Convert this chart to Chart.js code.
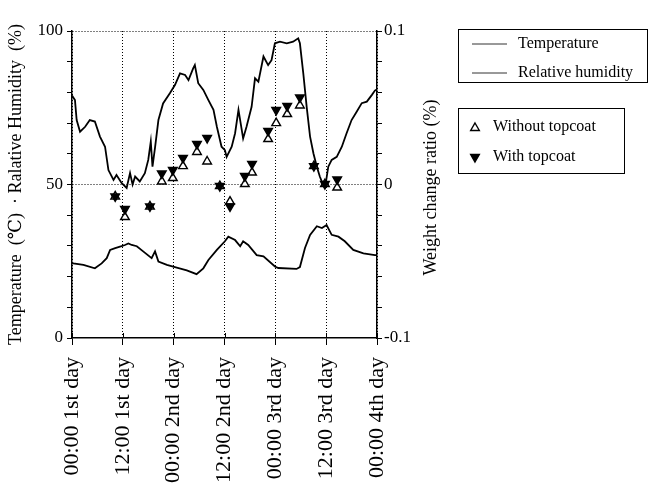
<!DOCTYPE html>
<html>
<head>
<meta charset="utf-8">
<title>Temperature, humidity and weight change</title>
<script src="https://cdn.jsdelivr.net/npm/chart.js@4/dist/chart.umd.min.js"></script>
<style>
  html, body { margin: 0; padding: 0; background: #fff; }
  #wrap { width: 651px; height: 486px; }
</style>
</head>
<body>
<div id="wrap"><canvas id="weather-chart" width="651" height="486"></canvas></div>
<script>
// time axis: hours from 00:00 of the 1st day, one tick every 12 h
const tickLabels = ['00:00 1st day', '12:00 1st day', '00:00 2nd day', '12:00 2nd day',
                    '00:00 3rd day', '12:00 3rd day', '00:00 4th day'];

// relative humidity (%)
const humidityHours = [0, 0.7, 1.1, 1.9, 3.1, 4.2, 5.4, 6.6, 7.8, 8.6, 9.8, 10.5, 11.7, 12.9, 13.7, 14.3,
  14.9, 16.0, 17.2, 18.0, 18.6, 19.0, 19.6, 20.4, 21.5, 23.1, 24.3, 25.5, 26.7, 27.5, 28.6, 29.0,
  29.8, 31.0, 32.2, 33.4, 34.2, 35.3, 36.1, 36.5, 37.7, 38.5, 39.3, 40.4, 41.2, 42.4, 43.2, 44.0,
  45.2, 46.3, 47.1, 47.9, 49.1, 50.7, 52.2, 53.4, 53.8, 54.6, 55.4, 56.2, 57.0, 57.8, 58.5, 59.3,
  59.8, 60.5, 61.3, 62.5, 63.7, 64.8, 66.0, 67.2, 68.4, 69.6, 70.8, 71.5, 72];
const humidityValues = [79, 77.5, 71, 67.2, 68.8, 71, 70.5, 65.6, 62.3, 54.7, 51.5, 53.1, 50.5, 48.9, 53.7, 50,
  52.6, 51, 53.7, 58, 64, 55.8, 62, 71, 76.4, 79.7, 82.4, 86.2, 85.7, 84, 87.8, 88.9,
  83, 80.8, 77.5, 74.3, 68.8, 62.3, 61.2, 59, 62.3, 66.7, 74.3, 65, 68.8, 75.3, 84.6, 83.5,
  91.7, 88.9, 90.5, 96, 96.5, 96, 96.5, 97.6, 96, 86.2, 75.3, 65.6, 60.1, 55.8, 52.6, 49.8,
  49.5, 55.8, 58, 59, 62.3, 66.6, 71, 73.7, 76.5, 77, 79.2, 80.6, 81];

// temperature (°C)
const tempHours = [0, 0.3, 2.7, 5.4, 7.0, 8.2, 9.0, 10.2, 11.7, 12.5, 13.3, 14.1, 15.3, 16.8, 18.8, 19.6,
  20.4, 22.4, 24.3, 27.1, 29.4, 31.0, 32.2, 34.2, 36.1, 36.9, 38.5, 39.7, 40.4, 41.6, 43.6, 45.2,
  47.9, 48.7, 53.0, 53.8, 55.0, 56.2, 57.8, 59.0, 60.1, 61.3, 62.9, 64.4, 66.4, 68.8, 71.5, 72];
const tempValues = [24.5, 24.3, 23.8, 22.7, 24.3, 26, 28.7, 29.3, 29.9, 30.3, 30.8, 30.3, 29.9, 28.2, 26, 28.2,
  24.9, 23.8, 23.1, 22, 20.8, 22.7, 25.4, 28.7, 31.5, 33, 31.9, 29.9, 31.5, 30.3, 27, 26.6,
  23.3, 22.8, 22.5, 23.1, 29.3, 33.6, 36.4, 35.8, 36.8, 33.6, 33, 31.5, 28.7, 27.6, 27, 27];

// weight change ratio (%) of the coated samples
const sampleHours = [10.2, 12.5, 18.4, 21.2, 23.8, 26.2, 29.5, 31.9, 34.9, 37.3,
  40.8, 42.5, 46.3, 48.2, 50.8, 53.8, 57.1, 59.7, 62.6];
const withoutTopcoat = [-0.0078, -0.0212, -0.0143, 0.002, 0.0042, 0.012, 0.0212, 0.015, -0.001, -0.0111,
  0.0003, 0.0078, 0.0296, 0.040, 0.0459, 0.0515, 0.012, 0.0003, -0.002];
const withTopcoat = [-0.0078, -0.016, -0.0143, 0.0072, 0.0094, 0.0173, 0.0264, 0.0303, -0.001, -0.0143,
  0.0055, 0.0134, 0.0349, 0.0485, 0.0511, 0.0567, 0.012, 0.0003, 0.0033];

const rightTitle = 'Weight change ratio (%)';

const SERIF = "'Liberation Serif', 'DejaVu Serif', serif";

function toPoints(xs, ys) {
    return xs.map((x, i) => ({ x: x, y: ys[i] }));
}

function drawTriangle(ctx, x, y, r, down, fill) {
    const s = down ? -1 : 1;
    ctx.beginPath();
    ctx.moveTo(x, y - s * r);
    ctx.lineTo(x + r * 0.866, y + s * r * 0.5);
    ctx.lineTo(x - r * 0.866, y + s * r * 0.5);
    ctx.closePath();
    ctx.fillStyle = fill;
    ctx.fill();
    ctx.stroke();
}

// framed legends on the right, the right axis title (reads upwards)
// and the inner half of the time ticks
const framedLegends = {
    id: 'framedLegends',
    afterDraw(chart) {
        const ctx = chart.ctx;
        const sets = chart.data.datasets;
        const area = chart.chartArea;
        ctx.save();
        ctx.strokeStyle = '#000';
        ctx.lineWidth = 1;
        ctx.fillStyle = '#000';
        ctx.font = '16px ' + SERIF;
        ctx.textBaseline = 'middle';

        ctx.strokeRect(458.5, 29.5, 189, 53);
        [sets[3], sets[2]].forEach((ds, i) => {
            const y = 44 + i * 29;
            ctx.strokeStyle = '#333';
            ctx.beginPath();
            ctx.moveTo(472, y);
            ctx.lineTo(507, y);
            ctx.stroke();
            ctx.fillStyle = '#000';
            ctx.fillText(ds.label, 518, y);
        });

        ctx.strokeStyle = '#000';
        ctx.strokeRect(458.5, 108.5, 166, 65);
        ctx.lineWidth = 1.4;
        drawTriangle(ctx, 475, 128, 5, false, '#fff');
        drawTriangle(ctx, 475, 157, 5, true, '#000');
        ctx.fillStyle = '#000';
        ctx.fillText(sets[1].label, 493, 127);
        ctx.fillText(sets[0].label, 493, 157);

        // right axis title
        ctx.save();
        ctx.translate(431, (area.top + area.bottom) / 2 + 3);
        ctx.rotate(-Math.PI / 2);
        ctx.font = '18px ' + SERIF;
        ctx.textAlign = 'center';
        ctx.fillText(rightTitle, 0, 0);
        ctx.restore();

        // time ticks cross the axis
        const xs = chart.scales.x;
        ctx.lineWidth = 1;
        xs.ticks.forEach(t => {
            const px = Math.round(xs.getPixelForValue(t.value)) + 0.5;
            ctx.beginPath();
            ctx.moveTo(px, area.bottom - 5);
            ctx.lineTo(px, area.bottom);
            ctx.stroke();
        });
        ctx.restore();
    }
};

const ctx = document.getElementById('weather-chart').getContext('2d');
const chart = new Chart(ctx, {
    type: 'line',
    data: {
        datasets: [
            {
                label: 'With topcoat',
                data: toPoints(sampleHours, withTopcoat),
                yAxisID: 'y2',
                showLine: false,
                pointStyle: 'triangle',
                pointRotation: 180,
                pointRadius: 5,
                pointBorderWidth: 1.4,
                pointBorderColor: '#000',
                pointBackgroundColor: '#000'
            },
            {
                label: 'Without topcoat',
                data: toPoints(sampleHours, withoutTopcoat),
                yAxisID: 'y2',
                showLine: false,
                pointStyle: 'triangle',
                pointRadius: 5,
                pointBorderWidth: 1.4,
                pointBorderColor: '#000',
                pointBackgroundColor: '#fff'
            },
            {
                label: 'Relative humidity',
                data: toPoints(humidityHours, humidityValues),
                yAxisID: 'y',
                borderColor: '#000',
                borderWidth: 1.8,
                pointRadius: 0,
                tension: 0
            },
            {
                label: 'Temperature',
                data: toPoints(tempHours, tempValues),
                yAxisID: 'y',
                borderColor: '#000',
                borderWidth: 1.8,
                pointRadius: 0,
                tension: 0
            }
        ]
    },
    options: {
        responsive: false,
        animation: false,
        layout: { padding: { top: 31, left: 0, right: 204, bottom: 0 } },
        plugins: {
            legend: { display: false },
            tooltip: { enabled: false }
        },
        scales: {
            x: {
                type: 'linear',
                min: 0,
                max: 72,
                afterFit: s => { s.height = 148; },
                ticks: {
                    stepSize: 12,
                    autoSkip: false,
                    minRotation: 90,
                    maxRotation: 90,
                    padding: 12,
                    color: '#000',
                    font: { family: SERIF, size: 22 },
                    callback: v => tickLabels[Math.round(v / 12)]
                },
                grid: { color: '#000', lineWidth: 1, tickLength: 7, tickColor: '#000', tickBorderDash: [] },
                border: { color: '#000', width: 1.5, dash: [1, 2] }
            },
            y: {
                position: 'left',
                min: 0,
                max: 100,
                afterFit: s => { s.width = 72; },
                ticks: {
                    stepSize: 10,
                    padding: 4,
                    color: '#000',
                    font: { family: SERIF, size: 17 },
                    callback: v => (v % 50 === 0 ? String(v) : '')
                },
                grid: {
                    color: c => (c.tick && (c.tick.value === 50 || c.tick.value === 100) ? '#000' : 'rgba(0,0,0,0)'),
                    tickColor: '#000',
                    tickLength: 5,
                    tickBorderDash: []
                },
                border: { color: '#000', width: 1.5, dash: [1, 2] },
                title: {
                    display: true,
                    text: 'Temperature  (℃)  · Ralative Humidity  (%)',
                    color: '#000',
                    font: { family: SERIF, size: 18 },
                    padding: { top: 5, bottom: 4 }
                }
            },
            y2: {
                position: 'right',
                min: -0.1,
                max: 0.1,
                afterFit: s => { s.width = 70; },
                ticks: {
                    stepSize: 0.02,
                    padding: 2,
                    color: '#000',
                    font: { family: SERIF, size: 17 },
                    callback: v => {
                        const r = Math.round(v * 10);
                        if (Math.abs(v * 10 - r) > 1e-6) return '';
                        return r === 0 ? '0' : (r / 10).toFixed(1);
                    }
                },
                grid: { drawOnChartArea: false, color: '#000', tickLength: 5 },
                border: { color: '#000', width: 1.5 }
            }
        }
    },
    plugins: [framedLegends]
});
</script>
</body>
</html>
